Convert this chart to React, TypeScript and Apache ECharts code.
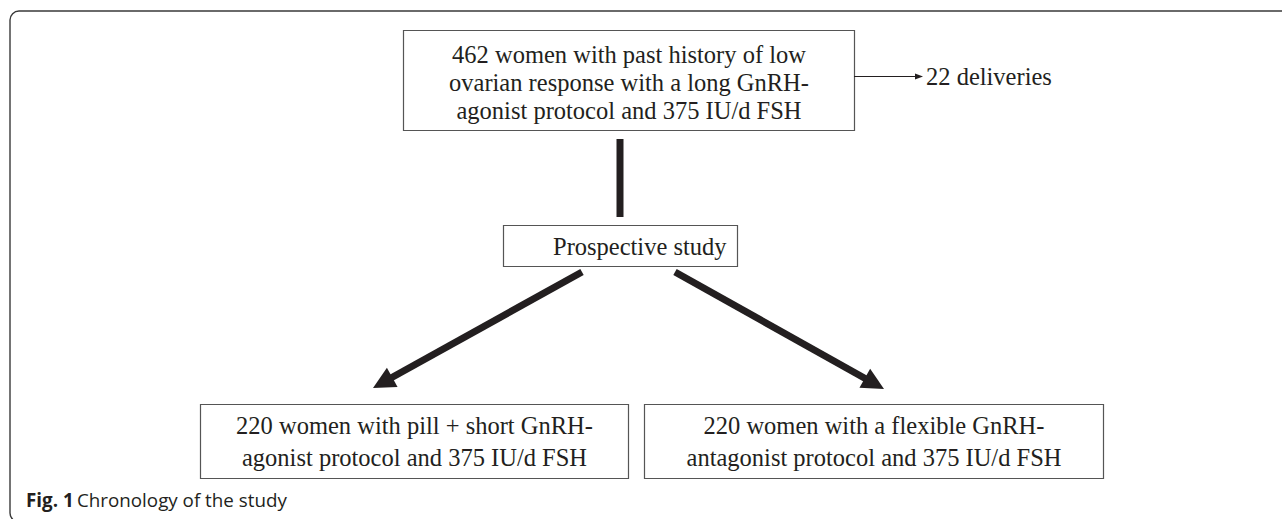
import React, { useEffect, useRef } from "react";
import * as echarts from "echarts";

// ---- Content (texts of the flow chart) ----
const topBoxLines = [
  "462 women with past history of low",
  "ovarian response with a long GnRH-",
  "agonist protocol and 375 IU/d FSH",
];
const sideNote = "22 deliveries";
const middleBoxText = "Prospective study";
const leftArmLines = ["220 women with pill + short GnRH-", "agonist protocol and 375 IU/d FSH"];
const rightArmLines = ["220 women with a flexible GnRH-", "antagonist protocol and 375 IU/d FSH"];
const captionLabel = "Fig. 1";
const captionText = "Chronology of the study";

const INK = "#231f20";
const BOX = "#555555";
const SERIF = '"Liberation Serif", "Times New Roman", serif';

function boxWithLines(x: number, y: number, w: number, h: number, lines: string[], firstY: number, step: number) {
  const els: any[] = [
    {
      type: "rect",
      shape: { x: x + 0.5, y: y + 0.5, width: w, height: h },
      style: { fill: "#fff", stroke: BOX, lineWidth: 1.2 },
    },
  ];
  lines.forEach((t, i) => {
    els.push({
      type: "text",
      x: x + w / 2 + 0.5,
      y: firstY + i * step,
      style: {
        text: t,
        fill: INK,
        fontSize: 24.5,
        fontFamily: SERIF,
        align: "center",
        verticalAlign: "middle",
        textAlign: "center",
        textVerticalAlign: "middle",
      },
    });
  });
  return els;
}

function arrow(x1: number, y1: number, x2: number, y2: number, lw: number, headLen: number, headW: number) {
  const dx = x2 - x1;
  const dy = y2 - y1;
  const len = Math.sqrt(dx * dx + dy * dy);
  const ux = dx / len;
  const uy = dy / len;
  const nx = -uy;
  const ny = ux;
  const bx = x2 - ux * headLen;
  const by = y2 - uy * headLen;
  return [
    {
      type: "line",
      shape: { x1, y1, x2: bx + ux * 2, y2: by + uy * 2 },
      style: { stroke: INK, lineWidth: lw },
    },
    {
      type: "polygon",
      shape: {
        points: [
          [x2, y2],
          [bx + (nx * headW) / 2, by + (ny * headW) / 2],
          [bx - (nx * headW) / 2, by - (ny * headW) / 2],
        ],
      },
      style: { fill: INK },
    },
  ];
}

export default function App() {
  const ref = useRef<HTMLDivElement>(null);
  useEffect(() => {
    const chart = echarts.init(ref.current!, null, { renderer: "svg" });
    const elements: any[] = [];

    // outer rounded frame (continues past the right and bottom edges)
    elements.push({
      type: "rect",
      shape: { x: 10, y: 11, width: 1320, height: 511, r: 9 },
      style: { fill: "none", stroke: "#3a3a3a", lineWidth: 1.4 },
    });

    // top box
    elements.push(...boxWithLines(403, 30, 451, 100, topBoxLines, 54, 28.3));
    // side arrow + note
    elements.push(...arrow(854, 76.5, 923, 76.5, 1.2, 8, 6));
    elements.push({
      type: "text",
      x: 926,
      y: 76,
      style: {
        text: sideNote,
        fill: INK,
        fontSize: 24.5,
        fontFamily: SERIF,
        align: "left",
        verticalAlign: "middle",
        textAlign: "left",
        textVerticalAlign: "middle",
      },
    });

    // thick vertical connector
    elements.push({
      type: "line",
      shape: { x1: 620, y1: 139, x2: 620, y2: 217 },
      style: { stroke: INK, lineWidth: 7 },
    });

    // middle box
    elements.push({
      type: "rect",
      shape: { x: 503.5, y: 225.5, width: 234, height: 41 },
      style: { fill: "#fff", stroke: BOX, lineWidth: 1.2 },
    });
    elements.push({
      type: "text",
      x: 553,
      y: 246,
      style: {
        text: middleBoxText,
        fill: INK,
        fontSize: 24.5,
        fontFamily: SERIF,
        align: "left",
        verticalAlign: "middle",
        textAlign: "left",
        textVerticalAlign: "middle",
      },
    });

    // thick arrows
    elements.push(...arrow(582, 272, 373, 388, 7, 22, 22));
    elements.push(...arrow(675, 272, 884, 389, 7, 22, 22));

    // bottom boxes
    elements.push(...boxWithLines(200, 404, 428, 74, leftArmLines, 425.5, 31.5));
    elements.push(...boxWithLines(644, 404, 459, 74, rightArmLines, 425.5, 31.5));

    // caption
    elements.push({
      type: "text",
      x: 26,
      y: 500,
      style: {
        text: "{b|" + captionLabel + "} {r|" + captionText + "}",
        verticalAlign: "middle",
        textVerticalAlign: "middle",
        rich: {
          b: { fontFamily: '"Open Sans", sans-serif', fontWeight: "bold", fontSize: 18.8, fill: INK, color: INK },
          r: { fontFamily: '"Open Sans", sans-serif', fontSize: 18.8, fill: INK, color: INK },
        },
      },
    });

    chart.setOption({
      animation: false,
      backgroundColor: "#ffffff",
      graphic: { elements },
    });
    return () => chart.dispose();
  }, []);
  return <div ref={ref} style={{ position: "absolute", left: 0, top: 0, width: 1282, height: 519 }} />;
}
